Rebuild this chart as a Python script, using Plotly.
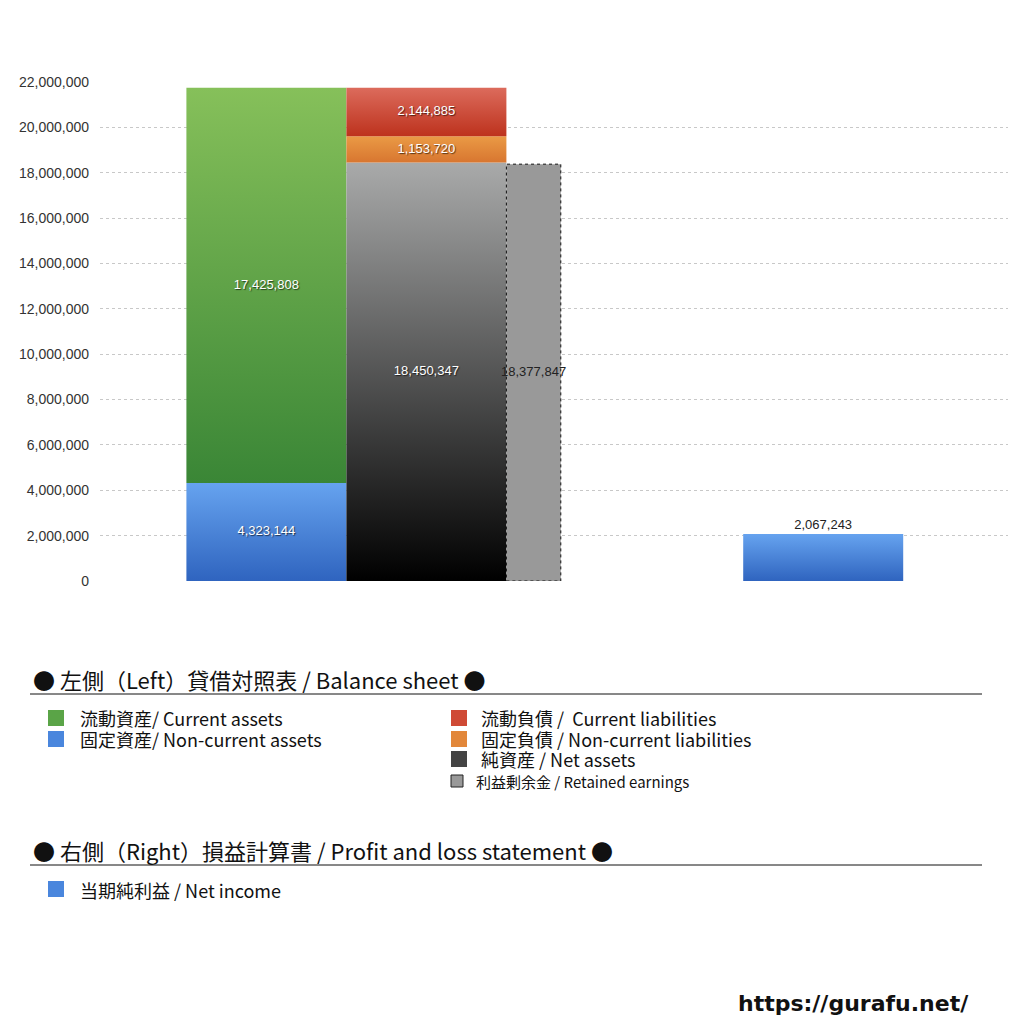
# gurafu.net style balance sheet / P&L chart
import plotly.graph_objects as go

# data (yen)
current_assets = 17425808
noncurrent_assets = 4323144
current_liabilities = 2144885
noncurrent_liabilities = 1153720
net_assets = 18450347
retained_earnings = 18377847
net_income = 2067243

y_ticks = [0, 2000000, 4000000, 6000000, 8000000, 10000000,
           12000000, 14000000, 16000000, 18000000, 20000000, 22000000]

# layout constants (bar slots, x axis in "bar width" units)
BAR_W = 1.0
LEFT_X0 = 0.54
RET_W = 0.34
RIGHT_X0 = 4.02
X_MAX = 5.675

FONT_JP = "Noto Sans CJK JP"
OFF = 8  # page body margin in the browser

fig = go.Figure()


def rect(x0, w, base, value, bottom, top, name):
    # filled rectangle with vertical gradient
    x1 = x0 + w
    fig.add_trace(go.Scatter(
        x=[x0, x1, x1, x0, x0],
        y=[base, base, base + value, base + value, base],
        mode="lines", fill="toself", line=dict(width=0),
        fillgradient=dict(type="vertical", colorscale=[[0, bottom], [1, top]]),
        name=name, hoverinfo="skip", showlegend=False,
    ))


def label(xc, y, value, color="white", shadow="1px 1px 1px rgba(0,0,0,0.6)"):
    fig.add_trace(go.Scatter(
        x=[xc], y=[y], mode="text", text=[f"{value:,}"],
        textfont=dict(family="Liberation Sans, Arial", size=13, color=color, shadow=shadow),
        hoverinfo="skip", showlegend=False,
    ))


# left: assets
rect(LEFT_X0, BAR_W, 0, noncurrent_assets, "#2f64bf", "#66a3ef", "固定資産")
rect(LEFT_X0, BAR_W, noncurrent_assets, current_assets, "#3a8636", "#86c05a", "流動資産")
# left: liabilities + net assets
x2 = LEFT_X0 + BAR_W
rect(x2, BAR_W, 0, net_assets, "#000000", "#a9aaaa", "純資産")
rect(x2, BAR_W, net_assets, noncurrent_liabilities, "#d87630", "#ea9a45", "固定負債")
rect(x2, BAR_W, net_assets + noncurrent_liabilities, current_liabilities,
     "#bd321d", "#dc6b5c", "流動負債")
# retained earnings (dotted border)
x3 = x2 + BAR_W
fig.add_trace(go.Scatter(
    x=[x3, x3 + RET_W, x3 + RET_W, x3, x3],
    y=[0, 0, retained_earnings, retained_earnings, 0],
    mode="lines", fill="toself", fillcolor="#999999",
    line=dict(color="#111111", width=1, dash="dot"),
    hoverinfo="skip", showlegend=False,
))
# right: net income
rect(RIGHT_X0, BAR_W, 0, net_income, "#2f64bf", "#66a3ef", "当期純利益")

# value labels
label(LEFT_X0 + BAR_W / 2, noncurrent_assets / 2, noncurrent_assets)
label(LEFT_X0 + BAR_W / 2, noncurrent_assets + current_assets / 2, current_assets)
label(x2 + BAR_W / 2, net_assets / 2, net_assets)
label(x2 + BAR_W / 2, net_assets + noncurrent_liabilities / 2, noncurrent_liabilities)
label(x2 + BAR_W / 2, net_assets + noncurrent_liabilities + current_liabilities / 2,
      current_liabilities)
label(x3 + RET_W / 2, retained_earnings / 2, retained_earnings, color="#222222", shadow="none")
label(RIGHT_X0 + BAR_W / 2, net_income + 350000, net_income, color="#222222", shadow="none")

# ---- legend drawn by hand below the plot ----
# plot area in screen pixels
PL, PR, PT, PB = 100, 1008, 82, 581


def px(xp, yp):
    return (xp - PL) / (PR - PL), (PB - yp) / (PB - PT)


def text_at(xp, yp, s, size, xanchor="left", bold=False, family=FONT_JP, color="#111111"):
    x, y = px(xp, yp)
    fig.add_annotation(xref="paper", yref="paper", x=x, y=y, text=f"<b>{s}</b>" if bold else s,
                       showarrow=False, xanchor=xanchor, yanchor="middle",
                       font=dict(family=family, size=size, color=color))


def hline(yp, x0p=30, x1p=982):
    a0, b = px(x0p, yp)
    a1, _ = px(x1p, yp)
    fig.add_shape(type="line", xref="paper", yref="paper", x0=a0, x1=a1, y0=b, y1=b,
                  line=dict(color="#111111", width=1))


def swatch(xp, yp, size, color, dotted=False):
    a0, b0 = px(xp, yp + size / 2)
    a1, b1 = px(xp + size, yp - size / 2)
    fig.add_shape(type="rect", xref="paper", yref="paper", x0=a0, x1=a1, y0=b0, y1=b1,
                  fillcolor=color,
                  line=dict(color="#222222", width=1) if dotted else dict(width=0))


text_at(31, 679, "● 左側（Left）貸借対照表 / Balance sheet ●", 22)
hline(694)
swatch(48, 718, 16, "#5aa447")
text_at(78, 718, "流動資産/ Current assets", 18)
swatch(48, 739, 16, "#4a86dd")
text_at(78, 739, "固定資産/ Non-current assets", 18)
swatch(451, 718, 16, "#cf4a35")
text_at(479, 718, "流動負債 /  Current liabilities", 18)
swatch(451, 739, 16, "#e2873a")
text_at(479, 739, "固定負債 / Non-current liabilities", 18)
swatch(451, 759, 16, "#444444")
text_at(479, 759, "純資産 / Net assets", 18)
swatch(451, 781, 12, "#999999", dotted=True)
text_at(474, 781, "利益剰余金 / Retained earnings", 15)

text_at(31, 850, "● 右側（Right）損益計算書 / Profit and loss statement ●", 22)
hline(865)
swatch(48, 889, 16, "#4a86dd")
text_at(78, 890, "当期純利益 / Net income", 18)

text_at(971, 1004, "https://gurafu.net/", 22, xanchor="right", bold=True,
        family="DejaVu Sans, Noto Sans")

fig.update_layout(
    width=1024, height=1024,
    margin=dict(l=PL - OFF, r=1024 - PR + OFF, t=PT - OFF, b=1024 - PB + OFF),
    plot_bgcolor="white", paper_bgcolor="white",
    showlegend=False,
    xaxis=dict(range=[0, X_MAX], visible=False, fixedrange=True),
    yaxis=dict(range=[0, 22000000], tickvals=y_ticks, tickformat=",d",
               showgrid=True, gridcolor="#c8c8c8", griddash="dot", gridwidth=1,
               zeroline=False, showline=False, ticks="", ticklabelstandoff=10,
               tickfont=dict(family="Liberation Sans, Arial", size=14, color="#333333")),
)

fig.write_html("out.html")
